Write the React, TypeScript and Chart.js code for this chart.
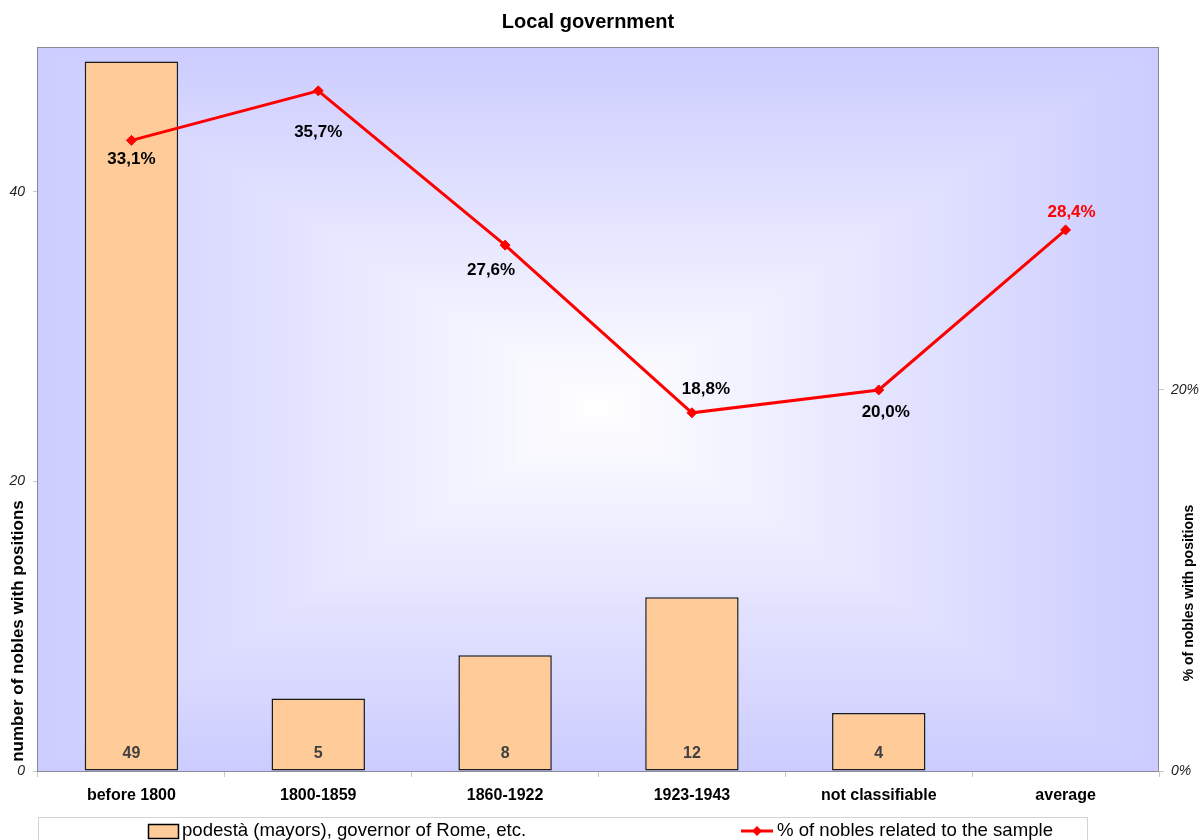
import React, { useEffect, useRef } from "react";
import { Chart, registerables } from "chart.js";

Chart.register(...registerables);

const categories = ["before 1800", "1800-1859", "1860-1922", "1923-1943", "not classifiable", "average"];
const nobleCounts: (number | null)[] = [49, 5, 8, 12, 4, null];
const percentShares = [33.1, 35.7, 27.6, 18.8, 20.0, 28.4];
const leftTicks = [0, 20, 40];
const rightTicks = [0, 20];
const pctLabelOffsets = [[0, 19], [0, 41], [-14, 25], [14, -23], [7, 22], [6, -18]];
const pctLabelColors = ["#000", "#000", "#000", "#000", "#000", "#FF0000"];

const chartTitle = "Local government";
const leftTitle = "number of nobles with positions";
const rightTitle = "% of nobles with positions";
const barLegend = "podestà (mayors), governor of Rome, etc.";
const lineLegend = "% of nobles related to the sample";

const FONT = "'Liberation Sans', Arial, Helvetica, sans-serif";

const fmtPct = (v: number) => v.toFixed(1).replace(".", ",") + "%";

const bgPlugin = {
  id: "bgPlugin",
  beforeDraw(chart: any) {
    const { ctx, chartArea: a } = chart;
    ctx.save();
    ctx.fillStyle = "#ffffff";
    ctx.fillRect(0, 0, chart.width, chart.height);
    const cx = (a.left + a.right) / 2;
    const cy = (a.top + a.bottom) / 2;
    const hw = (a.right - a.left) / 2;
    const hh = (a.bottom - a.top) / 2;
    const N = 150;
    for (let i = N; i >= 1; i--) {
      const t = i / N;
      const c = Math.round(255 - (255 - 204) * t);
      ctx.fillStyle = `rgb(${c},${c},255)`;
      ctx.fillRect(cx - hw * t, cy - hh * t, 2 * hw * t, 2 * hh * t);
    }
    ctx.restore();
  },
  afterDraw(chart: any) {
    const { ctx, chartArea: a } = chart;
    ctx.save();
    // plot border
    ctx.strokeStyle = "#8a8a96";
    ctx.lineWidth = 1;
    ctx.strokeRect(a.left - 0.5, a.top + 0.5, a.right - a.left, a.bottom - a.top);

    // bar value labels
    const barMeta = chart.getDatasetMeta(0);
    ctx.font = `bold 16px ${FONT}`;
    ctx.fillStyle = "#404040";
    ctx.textAlign = "center";
    ctx.textBaseline = "middle";
    barMeta.data.forEach((el: any, i: number) => {
      const v = nobleCounts[i];
      if (v == null) return;
      ctx.fillText(String(v), el.x, a.bottom - 17);
    });

    // line labels
    const lineMeta = chart.getDatasetMeta(1);
    ctx.font = `bold 17px ${FONT}`;
    lineMeta.data.forEach((el: any, i: number) => {
      const [dx, dy] = pctLabelOffsets[i];
      ctx.fillStyle = pctLabelColors[i];
      ctx.fillText(fmtPct(percentShares[i]), el.x + dx, el.y + dy);
    });

    // title
    ctx.fillStyle = "#000";
    ctx.font = `bold 20px ${FONT}`;
    ctx.fillText(chartTitle, 588, 22);

    // axis titles
    ctx.save();
    ctx.translate(18, 631);
    ctx.rotate(-Math.PI / 2);
    ctx.font = `bold 17px ${FONT}`;
    ctx.fillText(leftTitle, 0, 0);
    ctx.restore();

    ctx.save();
    ctx.translate(1189, 593);
    ctx.rotate(-Math.PI / 2);
    ctx.font = `bold 14px ${FONT}`;
    ctx.fillText(rightTitle, 0, 0);
    ctx.restore();

    // legend
    ctx.strokeStyle = "#d4d4d4";
    ctx.lineWidth = 1;
    ctx.strokeRect(38.5, 817.5, 1049, 40);
    const ly = 831;
    ctx.fillStyle = "#FFCC99";
    ctx.fillRect(148, 824, 30, 14);
    ctx.strokeStyle = "#000";
    ctx.lineWidth = 1.5;
    ctx.strokeRect(148.5, 824.5, 30, 14);
    ctx.fillStyle = "#000";
    ctx.font = `18.6px ${FONT}`;
    ctx.textAlign = "left";
    ctx.fillText(barLegend, 182, ly);

    ctx.strokeStyle = "#FF0000";
    ctx.lineWidth = 3;
    ctx.beginPath();
    ctx.moveTo(741, ly);
    ctx.lineTo(773, ly);
    ctx.stroke();
    ctx.fillStyle = "#FF0000";
    ctx.beginPath();
    ctx.moveTo(757, ly - 5);
    ctx.lineTo(762, ly);
    ctx.lineTo(757, ly + 5);
    ctx.lineTo(752, ly);
    ctx.closePath();
    ctx.fill();
    ctx.fillStyle = "#000";
    ctx.fillText(lineLegend, 777, ly);
    ctx.restore();
  },
};

export default function App() {
  const ref = useRef<HTMLCanvasElement | null>(null);
  useEffect(() => {
    if (!ref.current) return;
    const chart = new Chart(ref.current, {
      type: "bar",
      data: {
        labels: categories,
        datasets: [
          {
            type: "bar",
            label: barLegend,
            data: nobleCounts as any,
            backgroundColor: "#FFCC99",
            borderColor: "#1a1a1a",
            borderWidth: 1.5,
            borderSkipped: false,
            yAxisID: "y",
            barPercentage: 0.5,
            categoryPercentage: 1.0,
            order: 1,
          } as any,
          {
            type: "line",
            label: lineLegend,
            data: percentShares,
            yAxisID: "y1",
            borderColor: "#FF0000",
            borderWidth: 3,
            pointStyle: "rectRot",
            pointRadius: 5,
            pointBackgroundColor: "#FF0000",
            pointBorderColor: "#FF0000",
            pointBorderWidth: 1,
            tension: 0,
            order: 0,
          } as any,
        ],
      },
      options: {
        animation: false,
        responsive: false,
        devicePixelRatio: 1,
        layout: { padding: { top: 47, left: 0, right: 0, bottom: 0 } },
        plugins: {
          legend: { display: false },
          title: { display: false },
          tooltip: { enabled: false },
        },
        scales: {
          x: {
            offset: true,
            grid: {
              display: true,
              offset: true,
              drawOnChartArea: false,
              drawTicks: true,
              tickLength: 6,
              color: "#c8c8c8",
            },
            border: { display: false },
            ticks: {
              color: "#000",
              font: { family: FONT, size: 16, weight: "bold" },
              padding: 9,
              maxRotation: 0,
              autoSkip: false,
            },
            afterFit: (s: any) => {
              s.height = 69;
            },
          },
          y: {
            position: "left",
            min: 0,
            max: 50,
            grid: {
              drawOnChartArea: false,
              drawTicks: true,
              tickLength: 5,
              color: "#c8c8c8",
            },
            border: { display: false },
            ticks: {
              color: "#222",
              font: { family: FONT, size: 14, style: "italic" },
              padding: 8,
            },
            afterBuildTicks: (s: any) => {
              s.ticks = leftTicks.map((v) => ({ value: v }));
            },
            afterFit: (s: any) => {
              s.width = 38;
            },
          },
          y1: {
            position: "right",
            min: 0,
            max: 38,
            grid: {
              drawOnChartArea: false,
              drawTicks: true,
              tickLength: 5,
              color: "#c8c8c8",
            },
            border: { display: false },
            ticks: {
              color: "#222",
              font: { family: FONT, size: 14, style: "italic" },
              padding: 7,
              callback: (v: any) => `${v}%`,
            },
            afterBuildTicks: (s: any) => {
              s.ticks = rightTicks.map((v) => ({ value: v }));
            },
            afterFit: (s: any) => {
              s.width = 40;
            },
          },
        },
      } as any,
      plugins: [bgPlugin],
    });
    return () => chart.destroy();
  }, []);
  return (
    <div style={{ position: "absolute", left: 0, top: 0, width: 1199, height: 840, overflow: "hidden" }}>
      <canvas ref={ref} width={1199} height={840} style={{ display: "block", width: 1199, height: 840 }} />
    </div>
  );
}
